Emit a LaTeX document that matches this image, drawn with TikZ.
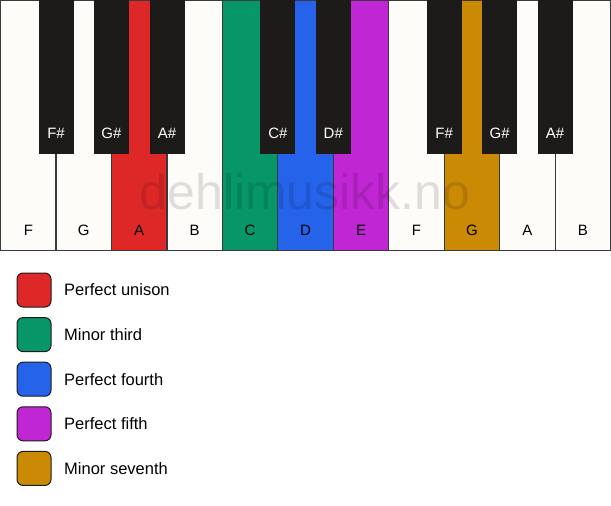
\documentclass[tikz,border=0pt]{standalone}
\usepackage{fontspec}
\setmainfont{Liberation Sans}
\usetikzlibrary{calc}
\definecolor{keywhite}{HTML}{FDFCF8}
\definecolor{keyblack}{HTML}{1C1B1A}
\definecolor{edge}{HTML}{3A3A3A}
\definecolor{cred}{HTML}{DE2828}
\definecolor{cgreen}{HTML}{069668}
\definecolor{cblue}{HTML}{2563EB}
\definecolor{cpurple}{HTML}{C026D3}
\definecolor{cgold}{HTML}{CA8A04}
\begin{document}
\begin{tikzpicture}[x=1pt,y=-1pt,
  whitekey/.style={draw=edge,line width=1.2pt,fill=keywhite,minimum width=55.5pt,minimum height=250pt,anchor=north west,inner sep=0pt,outer sep=0pt},
  blackkey/.style={draw=keyblack,line width=0.8pt,fill=keyblack,minimum width=34pt,minimum height=153pt,anchor=north,inner sep=0pt,outer sep=0pt},
  wlabel/.style={font=\fontsize{15}{18}\selectfont,text=black,anchor=center},
  blabel/.style={font=\fontsize{15}{18}\selectfont,text=white,anchor=center},
  swatch/.style={draw=keyblack,line width=1pt,rounded corners=6pt,minimum width=34pt,minimum height=34pt,anchor=north west,inner sep=0pt},
  legtext/.style={font=\fontsize{16.5}{19}\selectfont,anchor=west,inner sep=0pt}]
\useasboundingbox (0,0) rectangle (611,506);
% white keys
\foreach \i/\n/\c in {0/F/keywhite,1/G/keywhite,2/A/cred,3/B/keywhite,4/C/cgreen,5/D/cblue,6/E/cpurple,7/F/keywhite,8/G/cgold,9/A/keywhite,10/B/keywhite}{
  \node[whitekey,fill=\c] (w\i) at ({0.6+55.45*\i},0.6) {};
  \node[wlabel] (wl\i) at ($(w\i.south)+(0,-20)$) {\n};
}
% watermark
\node[font=\fontsize{50}{52}\selectfont,text=black,text opacity=0.12,anchor=center] (wm) at (305,192) {dehlimusikk.no};
% black keys
\foreach \i/\n in {1/F\#,2/G\#,3/A\#,5/C\#,6/D\#,8/F\#,9/G\#,10/A\#}{
  \node[blackkey] (b\i) at ({0.6+55.45*\i},0.6) {};
  \node[blabel] (bl\i) at ($(b\i.south)+(0,-20)$) {\n};
}
% legend
\foreach \k/\c/\t in {0/cred/Perfect unison,1/cgreen/Minor third,2/cblue/Perfect fourth,3/cpurple/Perfect fifth,4/cgold/Minor seventh}{
  \node[swatch,fill=\c] (s\k) at (16.5,{272.5+44.6*\k}) {};
  \node[legtext] (t\k) at ($(s\k.east)+(12.5,0)$) {\t};
}
\end{tikzpicture}
\end{document}
